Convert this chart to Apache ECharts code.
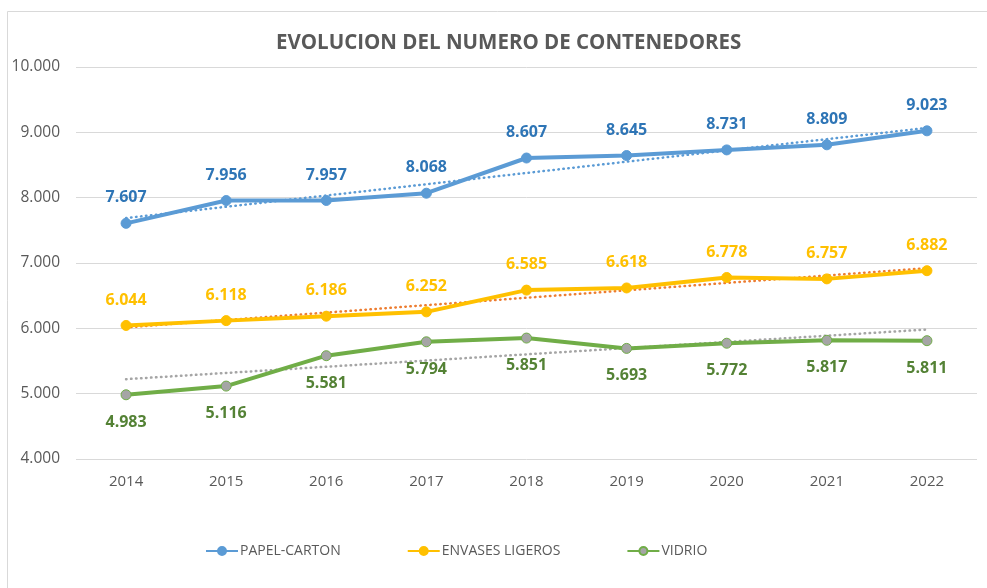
<!DOCTYPE html>
<html>
<head>
<meta charset="utf-8">
<script src="https://cdn.jsdelivr.net/npm/echarts@6/dist/echarts.min.js"></script>
<style>
  html, body { margin: 0; padding: 0; background: #fff; }
  #chart { width: 987px; height: 588px; }
</style>
</head>
<body>
<div id="chart"></div>
<script>
// datos
var years = ['2014', '2015', '2016', '2017', '2018', '2019', '2020', '2021', '2022'];
var papelCarton = [7607, 7956, 7957, 8068, 8607, 8645, 8731, 8809, 9023];
var envasesLigeros = [6044, 6118, 6186, 6252, 6585, 6618, 6778, 6757, 6882];
var vidrio = [4983, 5116, 5581, 5794, 5851, 5693, 5772, 5817, 5811];

// lineas de tendencia: valor inicial (2014) y final (2022)
var trendPapel = [7688, 9068];
var trendEnvases = [6014, 6922];
var trendVidrio = [5222, 5982];

var yTicks = [4000, 5000, 6000, 7000, 8000, 9000, 10000];

function fmt(v) {
  var s = String(Math.round(v));
  return s.replace(/\B(?=(\d{3})+(?!\d))/g, '.');
}

// solo primer y ultimo punto, el resto vacio
function trendData(ends) {
  var arr = years.map(function () { return null; });
  arr[0] = ends[0];
  arr[arr.length - 1] = ends[1];
  return arr;
}

var FONT = '"Open Sans", "Liberation Sans", sans-serif';

var chart = echarts.init(document.getElementById('chart'), null, { renderer: 'canvas' });

function mainSeries(name, data, lineColor, symColor, labelColor, labelPos) {
  return {
    name: name,
    type: 'line',
    data: data,
    symbol: 'circle',
    symbolSize: 10,
    z: 3,
    lineStyle: { color: lineColor, width: 4 },
    itemStyle: { color: symColor, borderColor: lineColor, borderWidth: 1 },
    label: {
      show: true,
      position: labelPos,
      distance: labelPos === 'top' ? 12 : 14,
      color: labelColor,
      fontFamily: FONT,
      fontSize: 16,
      fontWeight: 'bold',
      formatter: function (p) { return fmt(p.value); }
    },
    emphasis: { disabled: true }
  };
}

function trendSeries(name, ends, color) {
  return {
    name: name,
    type: 'line',
    data: trendData(ends),
    connectNulls: true,
    symbol: 'none',
    z: 2,
    lineStyle: { color: color, width: 2.5, type: [0.5, 4.5], cap: 'round' },
    emphasis: { disabled: true },
    silent: true
  };
}

var option = {
  animation: false,
  backgroundColor: '#fff',
  title: {
    text: 'EVOLUCION DEL NUMERO DE CONTENEDORES',
    left: 271,
    top: 28,
    textStyle: { color: '#595959', fontSize: 20.5, fontWeight: 'bold', fontFamily: FONT }
  },
  graphic: [{
    type: 'rect',
    shape: { x: 7.5, y: 11.5, width: 990, height: 590 },
    style: { fill: 'none', stroke: '#d9d9d9', lineWidth: 1 },
    silent: true
  }],
  legend: {
    data: ['PAPEL-CARTON', 'ENVASES LIGEROS', 'VIDRIO'],
    bottom: 25,
    left: 200,
    itemGap: 66,
    itemWidth: 32,
    itemHeight: 10,
    textStyle: { color: '#595959', fontSize: 14, fontFamily: FONT, padding: [0, 0, 0, -3] }
  },
  grid: { left: 76, right: 10, top: 67, bottom: 129 },
  xAxis: {
    type: 'category',
    data: years,
    boundaryGap: true,
    axisLine: { show: false },
    axisTick: { show: false },
    axisLabel: { color: '#595959', fontSize: 15, fontFamily: FONT, margin: 15 }
  },
  yAxis: {
    type: 'value',
    min: yTicks[0],
    max: yTicks[yTicks.length - 1],
    interval: 1000,
    axisLine: { show: false },
    axisTick: { show: false },
    splitLine: { lineStyle: { color: '#d9d9d9', width: 1 } },
    axisLabel: {
      color: '#595959', fontSize: 15.5, fontFamily: FONT, margin: 16,
      formatter: function (v) { return fmt(v); }
    }
  },
  series: [
    trendSeries('tendPapel', trendPapel, '#5b9bd5'),
    trendSeries('tendEnvases', trendEnvases, '#ed7d31'),
    trendSeries('tendVidrio', trendVidrio, '#a5a5a5'),
    mainSeries('PAPEL-CARTON', papelCarton, '#5b9bd5', '#5b9bd5', '#2e75b6', 'top'),
    mainSeries('ENVASES LIGEROS', envasesLigeros, '#ffc000', '#ffc000', '#ffc000', 'top'),
    mainSeries('VIDRIO', vidrio, '#70ad47', '#a5a5a5', '#548235', 'bottom')
  ]
};

chart.setOption(option);
</script>
</body>
</html>
